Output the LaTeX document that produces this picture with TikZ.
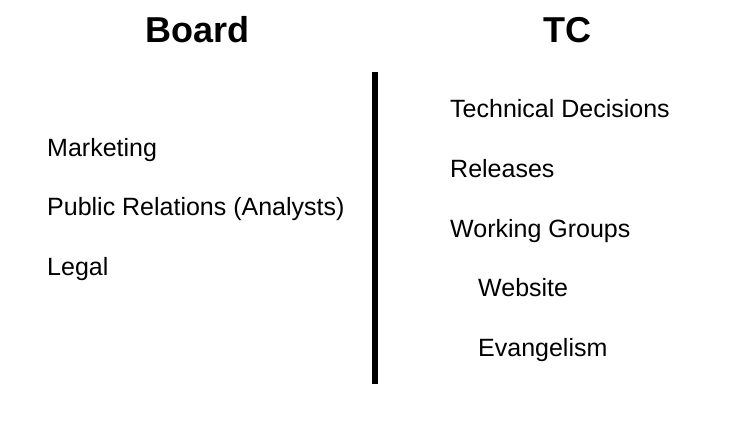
\documentclass[tikz,border=0pt]{standalone}
\usepackage{fontspec}
\setmainfont{Liberation Sans}
\begin{document}
\begin{tikzpicture}[x=1pt,y=-1pt,
  title/.style={anchor=base,inner sep=0pt,font=\fontsize{36}{40}\selectfont\bfseries},
  item/.style={anchor=base west,inner sep=0pt,font=\fontsize{25}{30}\selectfont},
  divider/.style={line width=6pt,black}]
  \useasboundingbox (0,0) rectangle (750,421);
  % column headings
  \node[title] (board) at (197.5,42) {Board};
  \node[title] (tc) at (567,42) {TC};
  % board responsibilities
  \node[item] (marketing) at (47,156) {Marketing};
  \node[item] (pr) at (47,215.5) {Public Relations (Analysts)};
  \node[item] (legal) at (47,275) {Legal};
  % TC responsibilities
  \node[item] (techdec) at (450,117) {Technical Decisions};
  \node[item] (releases) at (450,177) {Releases};
  \node[item] (wg) at (450,237) {Working Groups};
  \node[item] (website) at (478,296.5) {Website};
  \node[item] (evangelism) at (478,356) {Evangelism};
  % vertical divider between the two columns
  \coordinate (divtop) at (375,72);
  \coordinate (divbot) at (375,384);
  \draw[divider] (divtop) -- (divbot);
\end{tikzpicture}
\end{document}
